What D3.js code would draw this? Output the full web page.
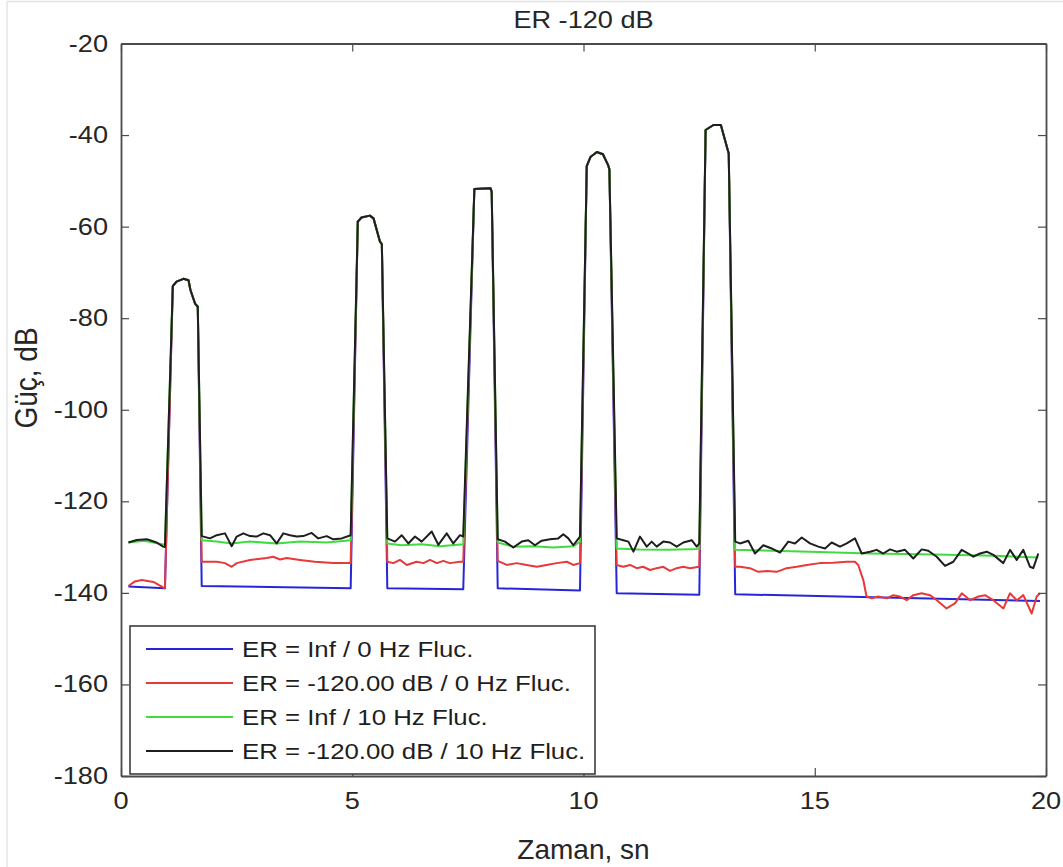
<!DOCTYPE html>
<html>
<head>
<meta charset="utf-8">
<script src="https://cdn.jsdelivr.net/npm/d3@7"></script>
<style>
  body { margin: 0; background: #fff; }
  svg { display: block; font-family: "Liberation Sans", Arial, sans-serif; }
</style>
</head>
<body>
<svg id="chart"></svg>
<script>
// chart text
const title = "ER -120 dB";
const xLabel = "Zaman, sn";
const yLabel = "Güç, dB";
const xTicks = [0, 5, 10, 15, 20];
const yTicks = [-180, -160, -140, -120, -100, -80, -60, -40, -20];

// shared pulse tops [t, dB]
const peak1 = [[1.12,-73.0],[1.2,-72.0],[1.35,-71.4],[1.46,-71.7],[1.5,-73.8],[1.6,-76.8],[1.66,-77.5]];
const peak2 = [[5.12,-58.9],[5.2,-58.0],[5.38,-57.6],[5.46,-58.2],[5.6,-63.3],[5.64,-63.8]];
const peak3 = [[7.64,-51.8],[7.99,-51.6],[8.015,-52.4]];
const peak4 = [[10.07,-46.8],[10.15,-44.8],[10.29,-43.7],[10.42,-44.2],[10.53,-46.5],[10.56,-47.5]];
const peak5 = [[12.64,-38.9],[12.81,-37.8],[12.97,-37.8],[13.12,-43.3],[13.14,-44.0]];

// noise floor between pulses, per series [t, dB]
const blueFloor = [
  [[0.16,-138.6],[0.95,-139.0]],
  [[1.745,-138.5],[4.966,-139.0]],
  [[5.758,-139.0],[7.4,-139.2]],
  [[8.145,-139.0],[9.924,-139.5]],
  [[10.718,-140.1],[12.504,-140.4]],
  [[13.28,-140.3],[19.87,-141.8]]
];
const redFloor = [
  [[0.16,-138.5],[0.3,-137.5],[0.45,-137.2],[0.7,-137.6],[0.91,-138.8],[0.95,-139.0]],
  [[1.745,-133.2],[2.069,-133.2],[2.249,-133.5],[2.393,-134.3],[2.502,-133.5],[2.789,-132.8],[3.15,-132.4],[3.29,-132.1],[3.44,-132.7],[3.58,-132.4],[3.87,-132.8],[4.19,-133.2],[4.59,-133.5],[4.966,-133.5]],
  [[5.758,-133.2],[5.89,-133.5],[6.03,-132.8],[6.18,-133.9],[6.39,-133.2],[6.54,-133.5],[6.68,-132.8],[6.83,-133.5],[6.97,-133.0],[7.11,-133.5],[7.33,-133.2],[7.4,-133.2]],
  [[8.145,-133.0],[8.34,-133.9],[8.555,-133.5],[8.77,-133.9],[8.99,-134.3],[9.2,-133.9],[9.42,-133.5],[9.64,-133.2],[9.78,-133.9],[9.924,-133.5]],
  [[10.718,-133.9],[10.86,-134.3],[11.005,-133.9],[11.15,-134.6],[11.29,-134.3],[11.44,-135.0],[11.583,-134.6],[11.725,-134.3],[11.87,-135.2],[12.015,-134.6],[12.158,-134.3],[12.3,-134.6],[12.504,-134.3]],
  [[13.28,-134.3],[13.384,-134.3],[13.6,-134.6],[13.78,-135.4],[13.96,-135.2],[14.18,-135.4],[14.39,-134.6],[14.61,-134.3],[14.83,-133.9],[15.11,-133.5],[15.4,-133.4],[15.69,-133.2],[15.87,-133.2],[15.94,-133.9],[16.05,-137.2],[16.12,-140.8],[16.23,-141.2],[16.37,-140.8],[16.56,-141.2],[16.7,-140.5],[16.84,-140.8],[16.99,-141.6],[17.13,-140.5],[17.31,-140.1],[17.49,-140.5],[17.64,-141.6],[17.85,-143.4],[18.03,-142.3],[18.18,-140.1],[18.36,-141.6],[18.54,-140.8],[18.68,-140.5],[18.86,-141.6],[19.08,-143.4],[19.22,-140.1],[19.37,-141.6],[19.51,-140.5],[19.69,-144.5],[19.8,-140.8],[19.87,-140.1]]
];
const greenFloor = [
  [[0.16,-129.0],[0.5,-128.6],[0.95,-129.5]],
  [[1.745,-128.5],[2.069,-128.8],[2.393,-129.2],[2.789,-128.8],[3.366,-129.2],[3.87,-128.8],[4.448,-129.0],[4.966,-128.5]],
  [[5.758,-129.2],[6.069,-129.6],[6.5,-129.4],[6.9,-129.8],[7.4,-129.4]],
  [[8.145,-129.0],[8.482,-129.9],[8.92,-129.8],[9.35,-130.1],[9.78,-129.8],[9.924,-128.8]],
  [[10.718,-130.3],[11.2,-130.5],[11.8,-130.6],[12.504,-130.4]],
  [[13.28,-130.6],[14.9,-131.0],[16.2,-131.4],[17.6,-131.6],[18.9,-131.9],[19.833,-132.3]]
];
const blackFloor = [
  [[0.16,-129.0],[0.34,-128.45],[0.56,-128.3],[0.77,-129.0],[0.91,-129.9],[0.95,-130.0]],
  [[1.745,-127.6],[1.924,-128.1],[2.069,-127.4],[2.249,-127.0],[2.393,-129.8],[2.502,-127.7],[2.645,-127.0],[2.789,-127.6],[2.934,-127.7],[3.077,-127.0],[3.222,-127.4],[3.366,-129.2],[3.509,-127.0],[3.654,-127.4],[3.799,-127.7],[3.942,-127.6],[4.123,-126.9],[4.266,-128.1],[4.448,-127.6],[4.59,-128.3],[4.772,-128.1],[4.966,-127.4]],
  [[5.758,-128.1],[5.924,-128.8],[6.069,-127.4],[6.212,-129.2],[6.357,-127.7],[6.501,-128.8],[6.718,-126.6],[6.861,-129.5],[7.042,-127.0],[7.185,-129.2],[7.33,-127.4],[7.4,-127.7]],
  [[8.145,-128.3],[8.303,-128.8],[8.482,-130.1],[8.664,-128.8],[8.806,-128.5],[8.951,-129.6],[9.096,-128.6],[9.276,-128.3],[9.455,-128.1],[9.563,-127.2],[9.672,-128.1],[9.78,-129.6],[9.924,-127.7]],
  [[10.718,-128.1],[10.86,-128.5],[10.97,-128.8],[11.08,-131.0],[11.22,-127.7],[11.367,-129.9],[11.475,-128.8],[11.583,-129.9],[11.725,-128.8],[11.87,-129.0],[12.015,-129.9],[12.158,-129.0],[12.34,-128.5],[12.448,-129.9],[12.504,-129.2]],
  [[13.28,-128.8],[13.384,-129.2],[13.563,-128.6],[13.708,-131.4],[13.888,-129.6],[14.069,-130.3],[14.249,-131.2],[14.428,-128.8],[14.573,-129.2],[14.718,-127.9],[14.897,-129.2],[15.077,-129.9],[15.222,-130.3],[15.366,-129.0],[15.546,-129.9],[15.691,-129.2],[15.87,-128.1],[16.015,-131.4],[16.195,-131.0],[16.339,-130.6],[16.482,-131.4],[16.627,-130.5],[16.772,-131.0],[16.951,-130.6],[17.131,-132.5],[17.312,-130.5],[17.455,-130.8],[17.637,-132.1],[17.816,-134.1],[17.996,-133.2],[18.177,-130.6],[18.32,-131.4],[18.428,-132.1],[18.573,-131.4],[18.718,-131.0],[18.861,-131.7],[19.077,-133.5],[19.222,-130.6],[19.366,-132.8],[19.509,-130.6],[19.654,-134.3],[19.725,-134.6],[19.833,-131.4]]
];

const seriesNames = ["ER = Inf / 0 Hz Fluc.", "ER = -120.00 dB / 0 Hz Fluc.", "ER = Inf / 10 Hz Fluc.", "ER = -120.00 dB / 10 Hz Fluc."];
const seriesColors = ["#2626d8", "#e8393a", "#3fdc3f", "#1e1e1e"];

function getConfig() {
  let width = 1063;
  let height = 867;
  let margin = { top: 43.5, left: 121, right: 17, bottom: 91 };
  let bodyWidth = width - margin.left - margin.right;
  let bodyHeight = height - margin.top - margin.bottom;
  let container = d3.select("#chart").attr("width", width).attr("height", height);
  return { width, height, margin, bodyWidth, bodyHeight, container };
}

// text in the picture is a bit wider than plain Arial
const sx = 1.18;

function stretchText(g, x, y, txt, size, anchor, k = sx) {
  return g.append("text")
    .attr("transform", `translate(${x},${y}) scale(${k},1)`)
    .attr("text-anchor", anchor)
    .style("font-size", size + "px")
    .attr("fill", "#262626")
    .text(txt);
}

function buildSeries(floor) {
  let peaks = [peak1, peak2, peak3, peak4, peak5];
  let pts = [];
  floor.forEach((seg, i) => {
    pts = pts.concat(seg);
    if (i < peaks.length) pts = pts.concat(peaks[i]);
  });
  return pts;
}

function drawChart() {
  let config = getConfig();
  let { margin, bodyWidth, bodyHeight, container, width } = config;

  // faint page edges
  container.append("line").attr("x1", 7).attr("x2", width).attr("y1", 1.5).attr("y2", 1.5)
    .attr("stroke", "#e2e2e2").attr("stroke-width", 1.5);
  container.append("line").attr("x1", 7).attr("x2", 7).attr("y1", 1.5).attr("y2", 867)
    .attr("stroke", "#e6e6e6").attr("stroke-width", 1.5);

  let xScale = d3.scaleLinear().domain([0, 20]).range([0, bodyWidth]);
  let yScale = d3.scaleLinear().domain([-180, -20]).range([bodyHeight, 0]);

  let body = container.append("g")
    .attr("transform", `translate(${margin.left},${margin.top})`);

  let line = d3.line()
    .x(d => xScale(d[0]))
    .y(d => yScale(d[1]));

  let floors = [blueFloor, redFloor, greenFloor, blackFloor];
  floors.forEach((floor, i) => {
    body.append("path")
      .datum(buildSeries(floor))
      .attr("d", line)
      .attr("fill", "none")
      .attr("stroke", seriesColors[i])
      .attr("stroke-width", 2)
      .attr("stroke-linejoin", "round");
  });

  // axes, ticks pointing inward on all four sides
  let axisColor = "#4a4a4a";
  let left = body.append("g")
    .call(d3.axisLeft(yScale).tickValues(yTicks).tickSizeInner(-8).tickSizeOuter(0).tickFormat(""));
  let right = body.append("g")
    .attr("transform", `translate(${bodyWidth},0)`)
    .call(d3.axisRight(yScale).tickValues(yTicks).tickSizeInner(-8).tickSizeOuter(0).tickFormat(""));
  let bottom = body.append("g")
    .attr("transform", `translate(0,${bodyHeight})`)
    .call(d3.axisBottom(xScale).tickValues(xTicks).tickSizeInner(-8).tickSizeOuter(0).tickFormat(""));
  let top = body.append("g")
    .call(d3.axisTop(xScale).tickValues(xTicks).tickSizeInner(-8).tickSizeOuter(0).tickFormat(""));
  [left, right, bottom, top].forEach(a => {
    a.selectAll("path").attr("stroke", axisColor).attr("stroke-width", 1.8);
    a.selectAll("line").attr("stroke", axisColor).attr("stroke-width", 1.2);
  });

  // tick labels
  yTicks.forEach(v => {
    stretchText(body, -13, yScale(v) + 8, v, 23, "end");
  });
  xTicks.forEach(v => {
    stretchText(body, xScale(v), bodyHeight + 33, v, 23, "middle");
  });

  // title and axis labels
  stretchText(body, bodyWidth / 2, 28 - margin.top, title, 23, "middle");
  stretchText(body, bodyWidth / 2, 859 - margin.top, xLabel, 28, "middle", 1);
  body.append("text")
    .attr("transform", `translate(${37 - margin.left},${378 - margin.top}) rotate(-90) scale(1,1.1)`)
    .attr("text-anchor", "middle")
    .style("font-size", "28px")
    .attr("fill", "#262626")
    .text(yLabel);

  // legend
  let legend = container.append("g");
  legend.append("rect")
    .attr("x", 130).attr("y", 626).attr("width", 465).attr("height", 148)
    .attr("fill", "#fff").attr("stroke", "#3c3c3c").attr("stroke-width", 1.6);
  seriesNames.forEach((name, i) => {
    let ly = 649 + i * 34;
    legend.append("line")
      .attr("x1", 146).attr("x2", 233).attr("y1", ly).attr("y2", ly)
      .attr("stroke", seriesColors[i]).attr("stroke-width", 1.8);
    legend.append("text")
      .attr("transform", `translate(242,${ly + 8}) scale(1.2,1)`)
      .style("font-size", "21.5px")
      .attr("fill", "#1e1e1e")
      .text(name);
  });
}

drawChart();
</script>
</body>
</html>
